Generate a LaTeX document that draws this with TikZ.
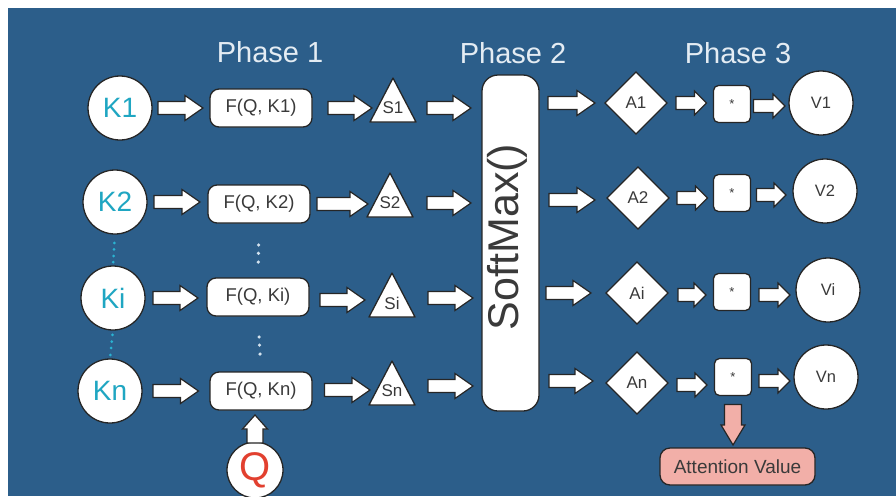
\documentclass[tikz,border=0pt]{standalone}
\usepackage{fontspec}
\setmainfont{Liberation Sans}
\usetikzlibrary{calc,shapes.geometric}
\definecolor{bg}{HTML}{2C5E8A}
\definecolor{outl}{HTML}{262626}
\definecolor{phasec}{HTML}{E4ECF3}
\definecolor{kcyan}{HTML}{1FA6C2}
\definecolor{qred}{HTML}{E2402F}
\definecolor{pinkc}{HTML}{F2AFA8}
\definecolor{txt}{HTML}{3A3A3A}
\definecolor{dotcyan}{HTML}{2AB3D2}
\definecolor{dotwhite}{HTML}{D3E2EE}
\newcommand\blockarrow[6]{%
  \path #5 coordinate (ba) #6 coordinate (bb);
  \path ($(bb)!#2pt!(ba)$) coordinate (bh);
  \draw[#1] ($(ba)!#3pt!90:(bb)$) -- ($(bh)!#3pt!-90:(ba)$) -- ($(bh)!#4pt!-90:(ba)$) -- (bb)
    -- ($(bh)!#4pt!90:(ba)$) -- ($(bh)!#3pt!90:(ba)$) -- ($(ba)!#3pt!-90:(bb)$) -- cycle;
}
\begin{document}
\begin{tikzpicture}[x=1pt,y=-1pt,
  every node/.style={inner sep=0pt, outer sep=0pt},
  shp/.style={draw=outl, fill=white, line width=1.3pt},
  kcirc/.style={shp, circle, minimum size=64pt, text=kcyan, font=\fontsize{28}{28}\selectfont},
  fbox/.style={shp, rectangle, rounded corners=9pt, minimum width=102pt, minimum height=38pt, text=txt, font=\fontsize{18.5}{19}\selectfont},
  stext/.style={text=txt, font=\fontsize{17}{17}\selectfont},
  tri/.style={shp, line join=round},
  dia/.style={shp, diamond, minimum width=62pt, minimum height=62pt, text=txt, font=\fontsize{17}{17}\selectfont},
  mbox/.style={shp, rectangle, rounded corners=5pt, minimum size=37pt, text=txt, font=\fontsize{13}{13}\selectfont},
  vcirc/.style={shp, circle, minimum size=64pt, text=txt, font=\fontsize{16.5}{17}\selectfont},
  phase/.style={text=phasec, font=\fontsize{29}{29}\selectfont},
  smbox/.style={shp, rectangle, rounded corners=16pt, minimum width=57pt, minimum height=336pt},
  pinkbox/.style={draw=outl, fill=pinkc, line width=1.3pt, rectangle, rounded corners=10pt, minimum width=155pt, minimum height=37pt, text=txt, font=\fontsize{19}{19}\selectfont},
  barrowst/.style={draw=outl, fill=white, line width=1.2pt, line join=miter},
  pinkst/.style={draw=outl, fill=pinkc, line width=1.2pt, line join=miter},
]
\useasboundingbox (0,0) rectangle (896,496);
\fill[white] (0,0) rectangle (896,496);
\fill[bg] (8,8) rectangle (896,496);

% phase labels
\node[phase] (p1) at (270,52) {Phase 1};
\node[phase] (p2) at (513,53) {Phase 2};
\node[phase] (p3) at (738,53) {Phase 3};

% K circles
\node[kcirc] (k1) at (120,108) {K1};
\node[kcirc] (k2) at (115,202) {K2};
\node[kcirc] (ki) at (113,298) {Ki};
\node[kcirc] (kn) at (110,391) {Kn};

% F boxes
\node[fbox] (f1) at (261,108) {F(Q, K1)};
\node[fbox] (f2) at (259,204) {F(Q, K2)};
\node[fbox] (fi) at (258,297) {F(Q, Ki)};
\node[fbox] (fn) at (261,391) {F(Q, Kn)};

% S triangles
\coordinate (s1c) at (393,108);
\coordinate (s2c) at (390,203);
\coordinate (sic) at (392,303);
\coordinate (snc) at (392,391);
\foreach \c in {s1c,s2c,sic,snc}
  \draw[tri] ($(\c)+(0,-30)$) -- ($(\c)+(23,14)$) -- ($(\c)+(-23,14)$) -- cycle;
\node[stext] (s1) at (s1c) {S1};
\node[stext] (s2) at (s2c) {S2};
\node[stext] (si) at (sic) {Si};
\node[stext] (sn) at (snc) {Sn};

% SoftMax
\node[smbox] (sm) at (510.5,243) {};
\node[rotate=90, text=txt, font=\fontsize{43}{43}\selectfont] (smt) at (507,237) {SoftMax()};

% A diamonds
\node[dia] (a1) at (636,103) {A1};
\node[dia] (a2) at (638,198) {A2};
\node[dia] (ai) at (637,293) {Ai};
\node[dia] (an) at (637,383) {An};

% * boxes
\node[mbox] (m1) at (732,104) {\raisebox{-3pt}{*}};
\node[mbox] (m2) at (732,193) {\raisebox{-3pt}{*}};
\node[mbox] (mi) at (732,292) {\raisebox{-3pt}{*}};
\node[mbox] (mn) at (733,377) {\raisebox{-3pt}{*}};

% V circles
\node[vcirc] (v1) at (821,103) {V1};
\node[vcirc] (v2) at (825,191) {V2};
\node[vcirc] (vi) at (828,290) {Vi};
\node[vcirc] (vn) at (826,377) {Vn};

% Q and attention value
\node[shp, circle, minimum size=56pt, text=qred, font=\fontsize{40}{40}\selectfont] (q) at (255,470) {Q};
\node[pinkbox] (att) at (737.5,466.5) {Attention Value};

% dots
\foreach \t in {0.28,0.48,0.69,0.88}
  \fill[dotcyan] ($(k2.south)!\t!(ki.north)$) circle (1.5);
\foreach \t in {0.17,0.4,0.62,0.86}
  \fill[dotcyan] ($(ki.south)!\t!(kn.north)$) circle (1.5);
\foreach \t in {0.4,0.55,0.71}
  \fill[dotwhite] ($(f2.south)!\t!(fi.north)$) circle (1.8);
\foreach \t in {0.375,0.52,0.68}
  \fill[dotwhite] ($(fi.south)!\t!(fn.north)$) circle (1.8);

% row 1 arrows
\blockarrow{barrowst}{18}{6.5}{12.5}{($(k1.east)+(6,0)$)}{($(f1.west |- k1)+(-7,0)$)}
\blockarrow{barrowst}{18}{6.5}{12.5}{($(f1.east)+(16,0)$)}{($(s1c |- f1)+(-21,0)$)}
\blockarrow{barrowst}{18}{6.5}{12.5}{($(s1c)+(34,0)$)}{($(sm.west |- s1c)+(-11,0)$)}
\blockarrow{barrowst}{18}{6.5}{12.5}{($(sm.east |- a1)+(9,0)$)}{($(a1.west)+(-10,0)$)}
\blockarrow{barrowst}{12}{6.5}{12}{($(a1.east)+(9,0)$)}{($(m1.west |- a1)+(-7,0)$)}
\blockarrow{barrowst}{12}{6.5}{12}{($(m1.east)+(3,2)$)}{($(v1.west |- m1)+(-4,2)$)}

% row 2 arrows
\blockarrow{barrowst}{18}{6.5}{12.5}{($(k2.east)+(7,0)$)}{($(f2.west |- k2)+(-8,0)$)}
\blockarrow{barrowst}{18}{6.5}{12.5}{($(f2.east)+(7,0)$)}{($(s2c |- f2)+(-22,0)$)}
\blockarrow{barrowst}{18}{6.5}{12.5}{($(s2c)+(37,0)$)}{($(sm.west |- s2c)+(-11,0)$)}
\blockarrow{barrowst}{18}{6.5}{12.5}{($(sm.east |- a2)+(10,2)$)}{($(a2.west)+(-12,2)$)}
\blockarrow{barrowst}{12}{6.5}{12}{($(a2.east)+(8,0)$)}{($(m2.west |- a2)+(-6,0)$)}
\blockarrow{barrowst}{12}{6.5}{12}{($(m2.east)+(6,2)$)}{($(v2.west |- m2)+(-7,2)$)}

% row i arrows
\blockarrow{barrowst}{18}{6.5}{12.5}{($(ki.east)+(8,0)$)}{($(fi.west |- ki)+(-9,0)$)}
\blockarrow{barrowst}{18}{6.5}{12.5}{($(fi.east)+(11,3)$)}{($(sic |- fi)+(-27,3)$)}
\blockarrow{barrowst}{18}{6.5}{12.5}{($(sic)+(36,-5)$)}{($(sm.west |- sic)+(-9,-5)$)}
\blockarrow{barrowst}{18}{6.5}{12.5}{($(sm.east |- ai)+(7,0)$)}{($(ai.west)+(-15,0)$)}
\blockarrow{barrowst}{12}{6.5}{12}{($(ai.east)+(10,2)$)}{($(mi.west |- ai)+(-7.5,2)$)}
\blockarrow{barrowst}{12}{6.5}{12}{($(mi.east)+(8.5,3)$)}{($(vi.west |- mi)+(-6,3)$)}

% row n arrows
\blockarrow{barrowst}{18}{6.5}{12.5}{($(kn.east)+(11,0)$)}{($(fn.west |- kn)+(-11.5,0)$)}
\blockarrow{barrowst}{18}{6.5}{12.5}{($(fn.east)+(12.5,-1)$)}{($(snc |- fn)+(-22,-1)$)}
\blockarrow{barrowst}{18}{6.5}{12.5}{($(snc)+(36,-5)$)}{($(sm.west |- snc)+(-9,-5)$)}
\blockarrow{barrowst}{18}{6.5}{12.5}{($(sm.east |- an)+(10,-2)$)}{($(an.west)+(-13,-2)$)}
\blockarrow{barrowst}{12}{6.5}{12}{($(an.east)+(9,2)$)}{($(mn.west |- an)+(-7.5,2)$)}
\blockarrow{barrowst}{12}{6.5}{12}{($(mn.east)+(7.5,4)$)}{($(vn.west |- mn)+(-4,4)$)}

% vertical arrows
\blockarrow{barrowst}{14}{8}{12.5}{($(q.north)+(0,1)$)}{($(q.north |- fn.south)+(0,5)$)}
\blockarrow{pinkst}{20}{8.5}{12}{($(mn.south)+(0,9)$)}{($(mn.south |- att.north)+(0,-3)$)}
\end{tikzpicture}
\end{document}
